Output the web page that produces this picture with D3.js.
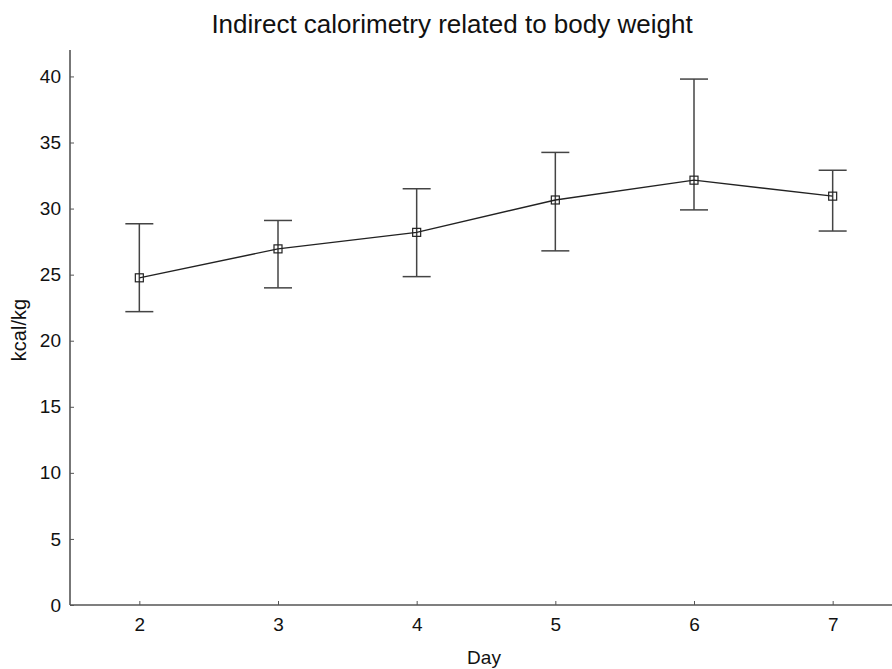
<!DOCTYPE html>
<html><head><meta charset="utf-8">
<script src="https://cdn.jsdelivr.net/npm/d3@7"></script>
<style>body{margin:0;background:#fff}svg{display:block}text{font-family:"Liberation Sans",Arial,sans-serif;fill:#111}</style>
</head><body><svg id="c" width="892" height="669"></svg>
<script>
const days = [2, 3, 4, 5, 6, 7];
const means = [24.76, 26.95, 28.2, 30.65, 32.15, 30.94];
const upper = [28.85, 29.1, 31.5, 34.25, 39.8, 32.9];
const lower = [22.2, 24.0, 24.85, 26.8, 29.9, 28.3];
const yTicks = [0, 5, 10, 15, 20, 25, 30, 35, 40];

const svg = d3.select("#c");
const x = d3.scaleLinear().domain([1.5, 7.5]).range([70, 902]);
const y = d3.scaleLinear().domain([0, 42]).range([605, 50]);

svg.append("text").attr("x", 452).attr("y", 33).attr("text-anchor", "middle")
  .style("font-size", "26px").text("Indirect calorimetry related to body weight");

const xa = svg.append("g").attr("transform", "translate(0,605)")
  .call(d3.axisBottom(x).tickValues(days).tickSize(-4).tickPadding(13).tickFormat(d3.format("d")));
const ya = svg.append("g").attr("transform", "translate(70,0)")
  .call(d3.axisLeft(y).tickValues(yTicks).tickSize(-4).tickPadding(9));
[xa, ya].forEach(g => {
  g.select(".domain").attr("stroke", "#555").attr("stroke-width", 1.6);
  g.selectAll(".tick line").attr("stroke", "#555");
  g.selectAll(".tick text").style("font-size", "19px").attr("fill", "#111").style("font-family", '"Liberation Sans",Arial,sans-serif');
});
xa.select(".domain").attr("d", "M70,0H892");
ya.select(".domain").attr("d", "M0,605V50");

svg.append("text").attr("x", 484).attr("y", 664).attr("text-anchor", "middle")
  .style("font-size", "19px").text("Day");
svg.append("text").attr("transform", "translate(26,330) rotate(-90)").attr("text-anchor", "middle")
  .style("font-size", "20px").text("kcal/kg");

const data = days.map((d, i) => ({d, m: means[i], u: upper[i], l: lower[i]}));
const eb = svg.append("g").attr("stroke", "#444").attr("stroke-width", 1.5);
data.forEach(p => {
  eb.append("line").attr("x1", x(p.d)).attr("x2", x(p.d)).attr("y1", y(p.u)).attr("y2", y(p.l));
  eb.append("line").attr("x1", x(p.d) - 14).attr("x2", x(p.d) + 14).attr("y1", y(p.u)).attr("y2", y(p.u));
  eb.append("line").attr("x1", x(p.d) - 14).attr("x2", x(p.d) + 14).attr("y1", y(p.l)).attr("y2", y(p.l));
});
svg.append("path").datum(data).attr("fill", "none").attr("stroke", "#222").attr("stroke-width", 1.4)
  .attr("d", d3.line().x(p => x(p.d)).y(p => y(p.m)));
svg.append("g").selectAll("rect").data(data).join("rect")
  .attr("x", p => x(p.d) - 4).attr("y", p => y(p.m) - 4).attr("width", 8).attr("height", 8)
  .attr("fill", "none").attr("stroke", "#222").attr("stroke-width", 1.2);
</script></body></html>
